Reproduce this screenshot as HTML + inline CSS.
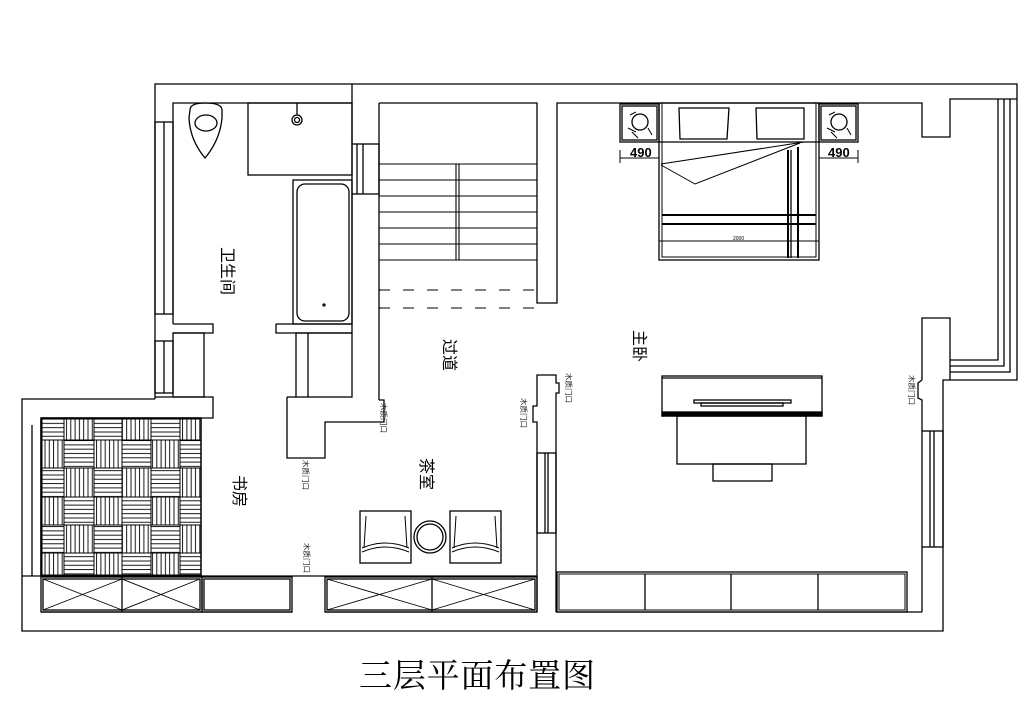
<!DOCTYPE html>
<html><head><meta charset="utf-8"><style>
html,body{margin:0;padding:0;background:#fff;}
svg{display:block}
text{font-family:"Liberation Sans","Noto Sans CJK SC",sans-serif;}
</style></head><body>
<svg width="1034" height="701" viewBox="0 0 1034 701" xmlns="http://www.w3.org/2000/svg">
<defs>
<pattern id="ph" patternUnits="userSpaceOnUse" width="10" height="4.3"><line x1="0" y1="2" x2="10" y2="2" stroke="#000" stroke-width="0.9"/></pattern>
<pattern id="pv" patternUnits="userSpaceOnUse" width="4.3" height="10"><line x1="2" y1="0" x2="2" y2="10" stroke="#000" stroke-width="0.9"/></pattern>
</defs>
<g fill="none" stroke="#000" stroke-width="1.3">
<polyline points="155,399 155,84 1017,84 1017,380 943,380 943,631 22,631 22,399 155,399"/>
<polyline points="173,324 173,103 352,103"/>
<line x1="352" y1="84" x2="352" y2="144"/>
<rect x="352" y="144" width="27" height="50"/>
<line x1="357" y1="144" x2="357" y2="194"/><line x1="363" y1="144" x2="363" y2="194"/>
<line x1="352" y1="194" x2="352" y2="324"/>
<rect x="155" y="122" width="18" height="192"/><line x1="164" y1="122" x2="164" y2="314"/>
<polyline points="173,324 213,324 213,333 173,333"/>
<rect x="155" y="341" width="18" height="52"/><line x1="164" y1="341" x2="164" y2="393"/>
<rect x="173" y="333" width="31" height="64"/>
<polyline points="155,397 213,397 213,418 41,418"/>
<rect x="248" y="103" width="104" height="72"/>
<rect x="293" y="180" width="59" height="144"/>
<rect x="297" y="184" width="52" height="137" rx="8"/>
<circle cx="324" cy="305" r="1"/>
<polyline points="276,324 352,324 352,333 276,333 276,324"/>
<rect x="296" y="333" width="56" height="64"/><line x1="308" y1="333" x2="308" y2="397"/>
<polyline points="287,397 296,397"/>
<polyline points="287,397 287,458 325,458 325,422 384,422 384,400 379,400"/>
<path d="M190,110 Q190,103 205,103 Q222,103 222,110 L222,118 Q220,140 205,158 Q190,140 189,118 Z"/>
<ellipse cx="206" cy="123" rx="11" ry="8"/>
<circle cx="297" cy="120" r="5"/><circle cx="297" cy="120" r="2.5"/>
<line x1="297" y1="103" x2="297" y2="115"/>
<line x1="379" y1="103" x2="379" y2="400"/>
<polyline points="379,103 537,103 537,303 557,303 557,103 922,103 922,137 950,137 950,99 1017,99"/>
<g stroke-width="1.1">
<line x1="379" y1="164" x2="537" y2="164"/><line x1="379" y1="180" x2="537" y2="180"/>
<line x1="379" y1="196" x2="537" y2="196"/><line x1="379" y1="212" x2="537" y2="212"/>
<line x1="379" y1="228" x2="537" y2="228"/><line x1="379" y1="244" x2="537" y2="244"/>
<line x1="379" y1="260" x2="537" y2="260"/>
<line x1="456" y1="164" x2="456" y2="260"/><line x1="459" y1="164" x2="459" y2="260"/>
<line x1="379" y1="290" x2="537" y2="290" stroke-dasharray="11,13"/>
<line x1="379" y1="308" x2="540" y2="308" stroke-dasharray="11,13"/>
</g>
<polyline points="998,99 998,360 950,360"/>
<polyline points="1004,99 1004,366 950,366"/>
<polyline points="1010,99 1010,372 950,372"/>
<polyline points="922,380 922,318 950,318 950,380"/>
<polyline points="922,380 918,383 918,398 922,400 922,431"/>
<rect x="922" y="431" width="21" height="116"/><line x1="930" y1="431" x2="930" y2="547"/><line x1="934" y1="431" x2="934" y2="547"/>
<line x1="922" y1="547" x2="922" y2="612"/>
<polyline points="537,533 537,422 533,422 533,406 537,406 537,375 556,375 556,383 559,383 559,393 556,393 556,612"/>
<rect x="537" y="453" width="19" height="80"/><line x1="545" y1="453" x2="545" y2="533"/><line x1="548" y1="453" x2="548" y2="533"/>
<line x1="537" y1="533" x2="537" y2="612"/>
<line x1="22" y1="576" x2="537" y2="576"/>
<line x1="41" y1="418" x2="41" y2="576"/><line x1="32" y1="425" x2="32" y2="576"/>
<rect x="41" y="577" width="161" height="35"/><rect x="43" y="579" width="157" height="31"/>
<line x1="122" y1="577" x2="122" y2="612"/>
<path d="M43,579 L122,610 M122,579 L43,610 M122,579 L200,610 M200,579 L122,610" stroke-width="0.9"/>
<rect x="202" y="577" width="90" height="35"/><rect x="204" y="579" width="86" height="31"/>
<rect x="325" y="577" width="212" height="35"/><rect x="327" y="579" width="208" height="31"/>
<line x1="432" y1="577" x2="432" y2="612"/>
<path d="M327,579 L432,610 M432,579 L327,610 M432,579 L535,610 M535,579 L432,610" stroke-width="0.9"/>
<line x1="41" y1="612" x2="292" y2="612"/><line x1="325" y1="612" x2="537" y2="612"/>
<rect x="360" y="511" width="51" height="52"/>
<path d="M362,548 Q385,538 409,548 M362,552 Q385,542 409,552 M366,516 L364,548 M405,516 L407,548" stroke-width="1"/>
<rect x="450" y="511" width="51" height="52"/>
<path d="M452,548 Q475,538 499,548 M452,552 Q475,542 499,552 M456,516 L454,548 M495,516 L497,548" stroke-width="1"/>
<circle cx="430" cy="537" r="16"/><circle cx="430" cy="537" r="13"/>
<rect x="620" y="104" width="39" height="38"/><rect x="622" y="106" width="35" height="34"/>
<rect x="819" y="104" width="39" height="38"/><rect x="821" y="106" width="35" height="34"/>
<circle cx="640" cy="122" r="8"/><circle cx="839" cy="122" r="8"/>
<path d="M628,128 L636,132 M632,132 L638,138 M648,128 L652,135 M630,115 L636,112" stroke-width="1"/>
<path d="M827,128 L835,132 M831,132 L837,138 M847,128 L851,135 M829,115 L835,112" stroke-width="1"/>
<rect x="659" y="103" width="160" height="157"/>
<rect x="662" y="103" width="154" height="154" stroke-width="1"/>
<line x1="659" y1="142" x2="819" y2="142"/>
<path d="M679,108 L729,108 L727,139 L680,139 Z"/>
<path d="M756,108 L804,108 L804,139 L757,139 Z"/>
<path d="M661,164 L804,142 M661,165 L695,184 L800,143" stroke-width="1"/>
<line x1="788" y1="150" x2="788" y2="258" stroke-width="2"/>
<line x1="791" y1="150" x2="791" y2="258"/>
<line x1="798" y1="147" x2="798" y2="258" stroke-width="2"/>
<line x1="662" y1="215" x2="816" y2="215" stroke-width="2"/>
<line x1="662" y1="224" x2="816" y2="224" stroke-width="2"/>
<line x1="659" y1="241" x2="819" y2="241" stroke-width="1"/>
<line x1="620" y1="158" x2="659" y2="158" stroke-width="1"/><line x1="620" y1="150" x2="620" y2="163" stroke-width="1"/>
<line x1="819" y1="158" x2="858" y2="158" stroke-width="1"/><line x1="858" y1="150" x2="858" y2="163" stroke-width="1"/>
<rect x="662" y="376" width="160" height="40"/><line x1="662" y1="378" x2="822" y2="378"/>
<rect x="694" y="400" width="97" height="3"/><rect x="701" y="403" width="82" height="3"/>
<rect x="662" y="412" width="160" height="4" fill="#000"/>
<rect x="677" y="416" width="129" height="48"/>
<rect x="713" y="464" width="59" height="17"/>
<rect x="557" y="572" width="350" height="40"/><rect x="559" y="574" width="346" height="36" stroke-width="1"/>
<line x1="645" y1="574" x2="645" y2="610"/><line x1="731" y1="574" x2="731" y2="610"/><line x1="818" y1="574" x2="818" y2="610"/>
<line x1="556" y1="612" x2="922" y2="612"/>
</g>
<g stroke="#000" stroke-width="1">
<rect x="42" y="419" width="22" height="21" fill="url(#ph)"/><rect x="64" y="419" width="30" height="21" fill="url(#pv)"/><rect x="94" y="419" width="28" height="21" fill="url(#ph)"/><rect x="122" y="419" width="29" height="21" fill="url(#pv)"/><rect x="151" y="419" width="29" height="21" fill="url(#ph)"/><rect x="180" y="419" width="21" height="21" fill="url(#pv)"/>
<rect x="42" y="440" width="22" height="28" fill="url(#pv)"/><rect x="64" y="440" width="30" height="28" fill="url(#ph)"/><rect x="94" y="440" width="28" height="28" fill="url(#pv)"/><rect x="122" y="440" width="29" height="28" fill="url(#ph)"/><rect x="151" y="440" width="29" height="28" fill="url(#pv)"/><rect x="180" y="440" width="21" height="28" fill="url(#ph)"/>
<rect x="42" y="468" width="22" height="29" fill="url(#ph)"/><rect x="64" y="468" width="30" height="29" fill="url(#pv)"/><rect x="94" y="468" width="28" height="29" fill="url(#ph)"/><rect x="122" y="468" width="29" height="29" fill="url(#pv)"/><rect x="151" y="468" width="29" height="29" fill="url(#ph)"/><rect x="180" y="468" width="21" height="29" fill="url(#pv)"/>
<rect x="42" y="497" width="22" height="28" fill="url(#pv)"/><rect x="64" y="497" width="30" height="28" fill="url(#ph)"/><rect x="94" y="497" width="28" height="28" fill="url(#pv)"/><rect x="122" y="497" width="29" height="28" fill="url(#ph)"/><rect x="151" y="497" width="29" height="28" fill="url(#pv)"/><rect x="180" y="497" width="21" height="28" fill="url(#ph)"/>
<rect x="42" y="525" width="22" height="28" fill="url(#ph)"/><rect x="64" y="525" width="30" height="28" fill="url(#pv)"/><rect x="94" y="525" width="28" height="28" fill="url(#ph)"/><rect x="122" y="525" width="29" height="28" fill="url(#pv)"/><rect x="151" y="525" width="29" height="28" fill="url(#ph)"/><rect x="180" y="525" width="21" height="28" fill="url(#pv)"/>
<rect x="42" y="553" width="22" height="22" fill="url(#pv)"/><rect x="64" y="553" width="30" height="22" fill="url(#ph)"/><rect x="94" y="553" width="28" height="22" fill="url(#pv)"/><rect x="122" y="553" width="29" height="22" fill="url(#ph)"/><rect x="151" y="553" width="29" height="22" fill="url(#pv)"/><rect x="180" y="553" width="21" height="22" fill="url(#ph)"/>
<rect x="41" y="418" width="160" height="158" fill="none" stroke-width="1.5"/>
</g>
<g font-size="16" fill="#000">
<text transform="translate(222,247) rotate(90)">卫生间</text>
<text transform="translate(444,339) rotate(90)">过道</text>
<text transform="translate(421,458) rotate(90)">茶室</text>
<text transform="translate(234,475) rotate(90)">书房</text>
<text transform="translate(634,330) rotate(90)">主卧</text>
</g>
<g font-size="7.5" fill="#222">
<text transform="translate(381,403) rotate(90)">木质门口</text>
<text transform="translate(521,398) rotate(90)">木质门口</text>
<text transform="translate(303,460) rotate(90)">木质门口</text>
<text transform="translate(304,543) rotate(90)">木质门口</text>
<text transform="translate(566,373) rotate(90)">木质门口</text>
<text transform="translate(909,375) rotate(90)">木质门口</text>
</g>
<g font-family="Liberation Serif,serif" font-size="13" font-weight="bold" fill="#000">
<text x="630" y="157">490</text><text x="828" y="157">490</text>
</g>
<text x="733" y="240" font-size="5" fill="#000">2000</text>
<text x="359" y="687" font-size="33" fill="#000" textLength="236" style="font-family:'Liberation Serif','Noto Serif CJK SC',serif">三层平面布置图</text>
</svg>
</body></html>
